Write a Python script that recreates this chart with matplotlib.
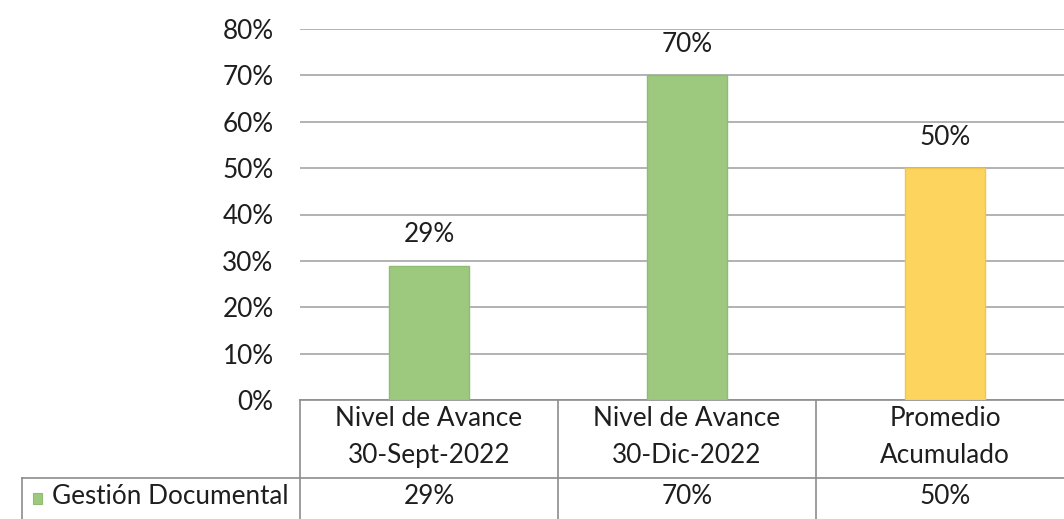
import matplotlib.pyplot as plt
import matplotlib.transforms as mtransforms
import numpy as np

categories = ["Nivel de Avance\n30-Sept-2022", "Nivel de Avance\n30-Dic-2022", "Promedio\nAcumulado"]
values = [0.29, 0.70, 0.50]
series_name = "Gestión Documental"
bar_colors = ["#9cc97e", "#9cc97e", "#fdd45e"]
edge_colors = ["#8fbb72", "#8fbb72", "#f0c650"]
y_ticks = [0, 0.1, 0.2, 0.3, 0.4, 0.5, 0.6, 0.7, 0.8]

plt.rcParams["font.family"] = ["Lato", "DejaVu Sans"]
FS = 18.8
TXT = "#1e1e1e"

W, H = 1064, 519
fig = plt.figure(figsize=(W / 100, H / 100), dpi=100)

# plot area in pixel coords
left, right, top, bottom = 300, 1074, 29, 400
ax = fig.add_axes([left / W, (H - bottom) / H, (right - left) / W, (bottom - top) / H])

x = np.arange(len(categories))
ax.bar(x, values, width=0.31, color=bar_colors, edgecolor=edge_colors, linewidth=1, zorder=3)
for xi, v in zip(x, values):
    ax.annotate(f"{v:.0%}", (xi, v), xytext=(0, 22), textcoords="offset points",
                ha="center", va="center", fontsize=FS, color=TXT)

ax.set_xlim(-0.5, len(categories) - 0.5)
ax.set_ylim(0, 0.8)
ax.set_yticks(y_ticks)
ax.set_yticklabels([f"{t:.0%}" for t in y_ticks], fontsize=FS, color=TXT)
ax.tick_params(axis="y", length=0, pad=19)
ax.set_xticks([])
ax.grid(axis="y", color="#a6a6a6", linewidth=1.2, zorder=0)
for s in ["top", "right", "left"]:
    ax.spines[s].set_visible(False)
ax.spines["bottom"].set_color("#8c8c8c")
ax.spines["bottom"].set_linewidth(1.2)

# data table below the axis
def fy(py):
    return (H - py) / H

def fx(px):
    return px / W

trans = mtransforms.blended_transform_factory(ax.transData, fig.transFigure)
line_kw = dict(color="#8c8c8c", linewidth=1.2, clip_on=False)

row_split = 478
for b in np.arange(len(categories) + 1) - 0.5:
    ax.plot([b, b], [fy(bottom), fy(H + 5)], transform=trans, **line_kw)
fig.add_artist(plt.Line2D([fx(22), fx(W + 10)], [fy(row_split), fy(row_split)], **line_kw))
fig.add_artist(plt.Line2D([fx(22), fx(22)], [fy(row_split), fy(H + 5)], **line_kw))

for xi, cat in zip(x, categories):
    ax.text(xi, fy(437), cat, transform=trans, ha="center", va="center",
            fontsize=FS, color=TXT, linespacing=1.6)
for xi, v in zip(x, values):
    ax.text(xi, fy(497), f"{v:.0%}", transform=trans, ha="center", va="center",
            fontsize=FS, color=TXT)

fig.patches.append(plt.Rectangle((fx(33), fy(504)), 9 / W, 11 / H, transform=fig.transFigure,
                                 facecolor="#9cc97e", edgecolor="#8fbb72", linewidth=0.8))
fig.text(fx(52), fy(497), series_name, ha="left", va="center", fontsize=FS, color=TXT)

fig.savefig("out.png", dpi=100)
